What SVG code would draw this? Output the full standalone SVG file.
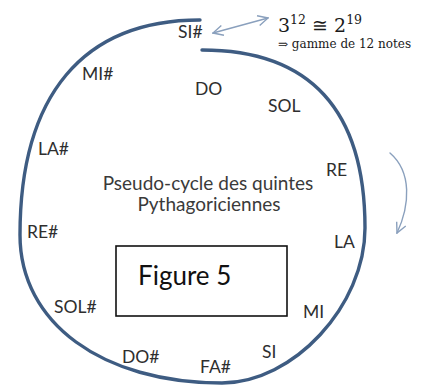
<svg xmlns="http://www.w3.org/2000/svg" width="430" height="385" viewBox="0 0 430 385">
<style>
.lbl{font-family:Lato,"Open Sans","Liberation Sans",sans-serif;font-size:17.5px;fill:#2e2e2e}
.ctr{font-family:Lato,"Open Sans","Liberation Sans",sans-serif;font-size:19px;fill:#3a3a3a}
.math{font-family:"DejaVu Serif","Liberation Serif",serif;fill:#1a1a1a}
.spiral{fill:none;stroke:#3e5c82;stroke-width:3.4;stroke-linecap:round}
.thin{fill:none;stroke:#8aa0bd;stroke-width:1.4;stroke-linecap:round;stroke-linejoin:round}
</style>
<defs>
<marker id="vh" viewBox="0 0 12 12" refX="11" refY="6" markerWidth="12" markerHeight="12" markerUnits="userSpaceOnUse" orient="auto-start-reverse">
<path d="M1,1 L11,6 L1,11" fill="none" stroke="#8aa0bd" stroke-width="1.4"/>
</marker>
</defs>
<rect width="430" height="385" fill="#ffffff"/>
<g id="connectors">
<path id="spiral" class="spiral" d="M200,20 C83,20 20,95 20,235 C20,323 102,383 222,383 C293,383 365,306 365,228 C365,110 310,50 202,50"/>
<path id="double-arrow" class="thin" d="M213,33 L268,18" marker-start="url(#vh)" marker-end="url(#vh)"/>
<path id="curved-arrow" class="thin" d="M390,153 C412,172 410,205 397,233" marker-end="url(#vh)"/>
</g>
<g id="note-SIs"><text class="lbl" x="178" y="38">SI#</text></g>
<g id="note-DO"><text class="lbl" x="195" y="95">DO</text></g>
<g id="note-SOL"><text class="lbl" x="268" y="112">SOL</text></g>
<g id="note-RE"><text class="lbl" x="326" y="176">RE</text></g>
<g id="note-LA"><text class="lbl" x="334" y="248">LA</text></g>
<g id="note-MI"><text class="lbl" x="303" y="318">MI</text></g>
<g id="note-SI"><text class="lbl" x="262" y="358">SI</text></g>
<g id="note-FAs"><text class="lbl" x="200" y="373">FA#</text></g>
<g id="note-DOs"><text class="lbl" x="122" y="363">DO#</text></g>
<g id="note-SOLs"><text class="lbl" x="54" y="313">SOL#</text></g>
<g id="note-REs"><text class="lbl" x="27" y="238">RE#</text></g>
<g id="note-LAs"><text class="lbl" x="38" y="155">LA#</text></g>
<g id="note-MIs"><text class="lbl" x="82" y="80">MI#</text></g>
<g id="title">
<text class="ctr" x="208" y="190" text-anchor="middle">Pseudo-cycle des quintes</text>
<text class="ctr" x="209" y="211" text-anchor="middle">Pythagoriciennes</text>
</g>
<g id="equation">
<text class="math" x="278" y="32" font-size="19">3<tspan font-size="12.5" dy="-8">12</tspan><tspan dy="8"> ≅ 2</tspan><tspan font-size="12.5" dy="-8">19</tspan></text>
<text class="math" x="278" y="48" font-size="12">⇒ gamme de 12 notes</text>
</g>
<g id="figure-box">
<rect x="116" y="246" width="171" height="70" fill="#ffffff" stroke="#111" stroke-width="1.6"/>
<text x="138" y="285" font-family="Lato,'Open Sans','Liberation Sans',sans-serif" font-size="26" fill="#111">Figure 5</text>
</g>
</svg>
